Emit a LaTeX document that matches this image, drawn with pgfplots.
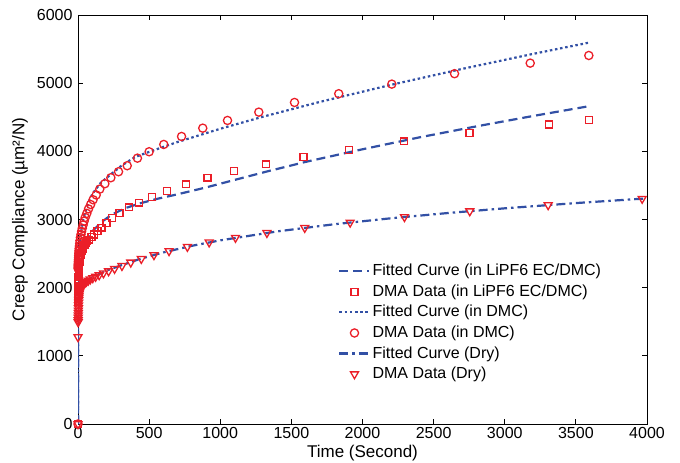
\documentclass[border=0pt]{standalone}
\usepackage{fontspec}
\setmainfont{Liberation Sans}
\usepackage{pgfplots}
\pgfplotsset{compat=1.18}
\usepackage{pgfplotstable}
\definecolor{fitblue}{RGB}{50,80,165}
\definecolor{datared}{RGB}{235,30,40}

\pgfplotstableread{
t J
0 0
0.6 1800
0.8 1840
1.0 1870
1.2 1910
1.4 1950
1.7 1990
2.1 2030
2.5 2070
3.0 2110
3.6 2150
4.3 2190
5.1 2230
6.2 2270
7.4 2310
8.9 2345
10.6 2380
12.8 2415
15.3 2450
18.4 2480
22 2510
26.5 2540
32 2565
38 2590
46 2620
55 2650
66 2680
79 2705
95 2740
114 2780
137 2830
165 2880
200 2947
240 3021
292 3094
357 3177
428 3246
521 3328
627 3416
758 3515
910 3613
1098 3710
1323 3808
1585 3915
1904 4023
2293 4145
2752 4267
3312 4394
3591 4463
}\dataLi

\pgfplotstableread{
t J
0 0
1.1 2280
1.3 2300
1.6 2320
1.9 2340
2.3 2360
2.8 2385
3.3 2410
4.0 2440
4.8 2470
5.8 2505
6.9 2540
8.3 2575
10 2610
12 2650
14 2690
17 2735
21 2780
25 2825
30 2870
36 2920
43 2975
51 3030
62 3090
74 3155
89 3220
106 3290
128 3360
153 3446
189 3525
231 3613
285 3701
346 3789
418 3900
500 3994
603 4101
728 4218
877 4340
1051 4453
1271 4575
1522 4717
1833 4845
2206 4986
2647 5139
3179 5294
3591 5406
}\dataDMC

\pgfplotstableread{
t J
0 0
0 1276
1.1 1495
1.3 1525
1.6 1560
1.9 1595
2.3 1630
2.7 1665
3.2 1700
3.9 1740
4.7 1780
5.6 1820
6.7 1855
8.0 1885
9.7 1915
11.6 1940
13.9 1962
16.7 1982
20 2000
24 2015
29 2030
35 2045
42 2060
50 2075
60 2090
72 2105
86 2122
104 2142
124 2162
149 2185
179 2212
215 2242
257 2278
309 2320
371 2370
445 2423
534 2479
640 2538
769 2600
922 2665
1107 2733
1328 2804
1594 2878
1913 2956
2295 3037
2754 3122
3305 3212
3966 3305
}\dataDry

\pgfplotstableread{
t J
0 0
0.3 1820
1 1900
3 2080
10 2330
25 2560
60 2720
100 2825
165 2962
236 3070
330 3165
433 3235
550 3300
700 3370
900 3470
1100 3580
1320 3700
1600 3845
2000 4030
2400 4205
2800 4366
3200 4519
3600 4665
}\fitLi

\pgfplotstableread{
t J
0 0
0.3 2200
1 2320
3 2420
6 2520
10 2620
20 2800
35 2980
50 3100
75 3260
100 3370
154 3525
189 3590
236 3671
306 3790
400 3915
500 3992
700 4137
1000 4331
1300 4508
1700 4725
2200 4975
2700 5209
3200 5430
3600 5598
}\fitDMC

\pgfplotstableread{
t J
0 0
0.3 1420
1 1510
3 1700
10 1920
30 2040
60 2100
100 2150
200 2250
300 2325
433 2420
600 2517
800 2614
1000 2694
1400 2825
1800 2930
2200 3018
2600 3095
3000 3164
3500 3241
4000 3310
}\fitDry

\begin{document}
\fontsize{16}{19}\selectfont
\begin{tikzpicture}
\begin{axis}[name=ax,
  scale only axis, width=569pt, height=409pt,
  xmin=0, xmax=4000, ymin=0, ymax=6000,
  xtick={0,500,...,4000}, ytick={0,1000,...,6000},
  xtick pos=both, ytick pos=both, tick align=inside,
  major tick length=5pt,
  scaled ticks=false,
  /pgf/number format/assume math mode=true,
  /pgf/number format/set thousands separator={},
  tick label style={font=\fontsize{16}{19}\selectfont},
  xticklabel style={yshift=2pt},
  label style={font=\fontsize{17}{20}\selectfont},
  xlabel={Time (Second)}, ylabel={Creep Compliance (µm²/N)},
  xlabel style={yshift=5pt}, ylabel style={yshift=-2pt},
  axis line style={line width=0.9pt}, every tick/.style={line width=0.8pt, black},
  legend style={draw=none, fill=none, font=\fontsize{16}{19}\selectfont,
    at={(0.452,0.401)}, anchor=north west, row sep=2.6pt},
  legend cell align=left,
  legend image code/.code={\draw[mark repeat=2,mark phase=2] plot coordinates {(0pt,0pt) (15pt,0pt) (30pt,0pt)};},
]
\addplot[fitblue, line width=2.2pt, dash pattern=on 9pt off 5pt] table[x=t,y=J] {\fitLi};
\addlegendentry{Fitted Curve (in LiPF6 EC/DMC)}
\addplot[only marks, mark=square, mark size=3.4pt, color=datared, draw=datared, mark options={draw=datared, fill=none, line width=1.3pt}] table[x=t,y=J] {\dataLi};
\addlegendentry{DMA Data (in LiPF6 EC/DMC)}
\addplot[fitblue, line width=2.2pt, dash pattern=on 2.5pt off 2.7pt] table[x=t,y=J] {\fitDMC};
\addlegendentry{Fitted Curve (in DMC)}
\addplot[only marks, mark=o, mark size=4.1pt, color=datared, draw=datared, mark options={draw=datared, fill=none, line width=1.3pt}] table[x=t,y=J] {\dataDMC};
\addlegendentry{DMA Data (in DMC)}
\addplot[fitblue, line width=2.2pt, dash pattern=on 9pt off 4pt on 2.5pt off 4pt] table[x=t,y=J] {\fitDry};
\addlegendentry{Fitted Curve (Dry)}
\addplot[only marks, mark=triangle, mark size=4.6pt, color=datared, draw=datared, mark options={draw=datared, fill=none, line width=1.3pt, rotate=180}] table[x=t,y=J] {\dataDry};
\addlegendentry{DMA Data (Dry)}
\end{axis}
\pgfresetboundingbox
\path ([shift={(-78pt,-38pt)}]ax.south west) rectangle ([shift={(33pt,15pt)}]ax.north east);
\end{tikzpicture}
\end{document}
